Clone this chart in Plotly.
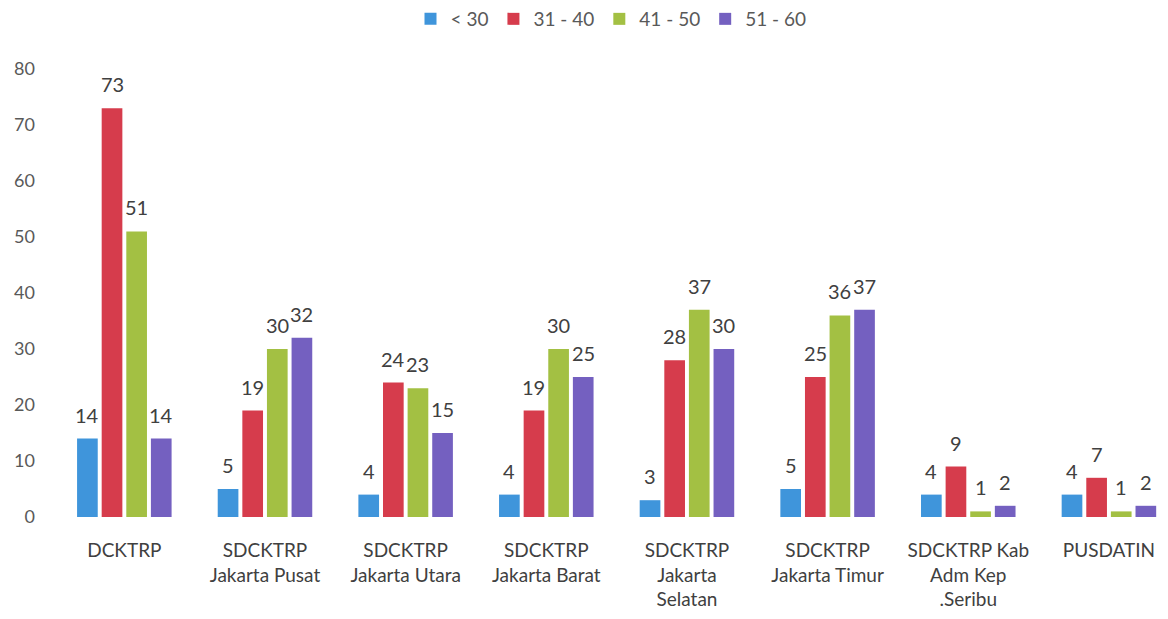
import plotly.graph_objects as go

categories = ["DCKTRP", "SDCKTRP<br>Jakarta Pusat", "SDCKTRP<br>Jakarta Utara",
              "SDCKTRP<br>Jakarta Barat", "SDCKTRP<br>Jakarta<br>Selatan",
              "SDCKTRP<br>Jakarta Timur", "SDCKTRP Kab<br>Adm Kep<br>.Seribu", "PUSDATIN"]
series_names = ["< 30", "31 - 40", "41 - 50", "51 - 60"]
s_lt30 = [14, 5, 4, 4, 3, 5, 4, 4]
s_31_40 = [73, 19, 24, 19, 28, 25, 9, 7]
s_41_50 = [51, 30, 23, 30, 37, 36, 1, 1]
s_51_60 = [14, 32, 15, 25, 30, 37, 2, 2]
colors = ["#3f95db", "#d63c4c", "#a3c043", "#7460c0"]
y_ticks = [0, 10, 20, 30, 40, 50, 60, 70, 80]

series = [s_lt30, s_31_40, s_41_50, s_51_60]
FONT = "Lato, 'Open Sans', sans-serif"
bargap = 0.30
slot = (1 - bargap) / len(series)

fig = go.Figure()
annotations = []
for k, (name, vals, col) in enumerate(zip(series_names, series, colors)):
    fig.add_trace(go.Bar(x=categories, y=vals, name=name, marker_color=col,
                         marker_line_width=0))
    for i, v in enumerate(vals):
        annotations.append(dict(x=i + (k - 1.5) * slot, y=v, xref="x", yref="y",
                                text=str(v), showarrow=False, yanchor="bottom",
                                yshift=10, font=dict(size=20, color="#404040", family=FONT)))

fig.update_layout(
    width=1168, height=619,
    margin=dict(l=54, r=0, t=69, b=102),
    paper_bgcolor="white", plot_bgcolor="white",
    barmode="group", bargap=bargap, bargroupgap=0.16,
    font=dict(family=FONT, size=18, color="#595959"),
    legend=dict(orientation="h", x=0.5, xanchor="center", y=1.0, yref="container",
                yanchor="top", font=dict(size=19, color="#595959"),
                itemwidth=30, traceorder="normal"),
    annotations=annotations,
    xaxis=dict(range=[-0.5, 7.42], showgrid=False, showline=False, ticks="",
               ticklabelstandoff=20,
               tickfont=dict(size=19, color="#404040"), tickangle=0),
    yaxis=dict(range=[0, 80], tickvals=y_ticks, showgrid=False, zeroline=False,
               showline=False, ticks="", ticklabelstandoff=18,
               tickfont=dict(size=18, color="#595959")),
)
fig.write_html("out.html")
